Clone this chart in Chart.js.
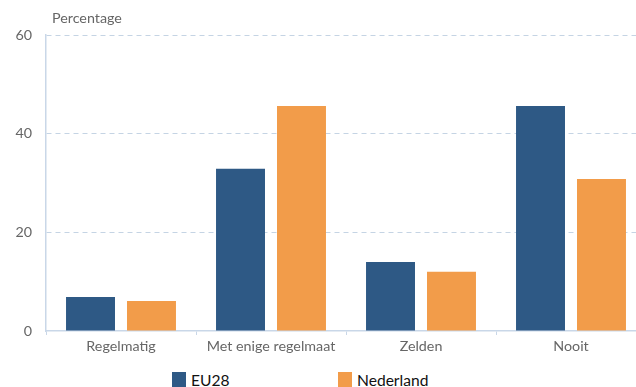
<!DOCTYPE html>
<html>
<head>
<meta charset="utf-8">
<script src="https://cdn.jsdelivr.net/npm/chart.js@4/dist/chart.umd.min.js"></script>
<style>
  html, body { margin: 0; padding: 0; background: #fff; overflow: hidden; width: 636px; height: 387px; }
  #wrap { position: absolute; left: 0; top: 0; width: 660px; height: 362px; }
  #ytitle { position: absolute; left: 52px; top: 9px; font: 14.3px Lato, "Open Sans", sans-serif; color: #666; }
  .leg { position: absolute; top: 372px; font: 15.6px Lato, "Open Sans", sans-serif; color: #111; line-height: 16px; }
  .leg span { display: inline-block; width: 14px; height: 15px; vertical-align: top; margin-right: 5px; }
</style>
</head>
<body>
<div id="wrap"><canvas id="c" width="660" height="362"></canvas></div>
<div id="ytitle">Percentage</div>
<div class="leg" style="left:172px"><span style="background:#2e5985"></span>EU28</div>
<div class="leg" style="left:338px"><span style="background:#f29c4a"></span>Nederland</div>
<script>
const categories = ["Regelmatig", "Met enige regelmaat", "Zelden", "Nooit"];
const eu28 = [6.9, 32.9, 14.0, 45.6];
const nederland = [6.1, 45.6, 12.0, 30.8];
const yTicks = [0, 20, 40, 60];

const font = { family: "Lato, 'Open Sans', sans-serif", size: 14.3 };
new Chart(document.getElementById('c'), {
  type: 'bar',
  data: {
    labels: categories,
    datasets: [
      { label: 'EU28', data: eu28, backgroundColor: '#2e5985', categoryPercentage: 0.813, barPercentage: 0.803 },
      { label: 'Nederland', data: nederland, backgroundColor: '#f29c4a', categoryPercentage: 0.813, barPercentage: 0.803 }
    ]
  },
  options: {
    responsive: false,
    animation: false,
    layout: { padding: { top: 35, left: 0, right: 14, bottom: 0 } },
    plugins: { legend: { display: false }, tooltip: { enabled: false } },
    scales: {
      x: {
        offset: true,
        grid: { offset: true, drawOnChartArea: false, drawTicks: true, tickLength: 4, color: '#c9d7e8' },
        border: { color: '#c9d7e8', width: 1.5 },
        ticks: { color: '#666', font: font, padding: 3 },
        afterFit: s => { s.height = 31; }
      },
      y: {
        min: 0, max: 60,
        afterBuildTicks: s => { s.ticks = yTicks.map(v => ({ value: v })); },
        grid: { color: ctx => ctx.tick && ctx.tick.value === 0 ? 'rgba(0,0,0,0)' : '#c5d4e4', drawTicks: false, lineWidth: 1 },
        border: { color: '#c9d7e8', width: 1.5, dash: [5, 4] },
        ticks: { color: '#666', font: font, padding: 14 },
        afterFit: s => { s.width = 46; }
      }
    }
  }
});
</script>
</body>
</html>
